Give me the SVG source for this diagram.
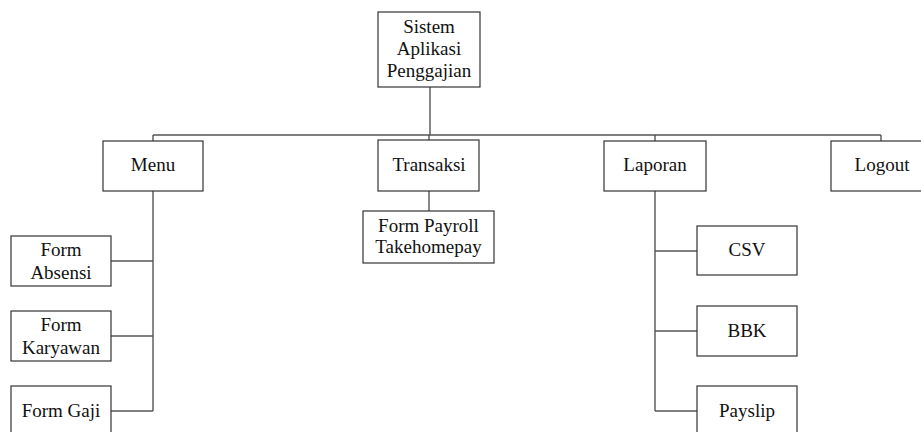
<svg xmlns="http://www.w3.org/2000/svg" width="921" height="432" viewBox="0 0 921 432">
  <style>
    .box { fill: #ffffff; stroke: #333333; stroke-width: 1.2; }
    .link { fill: none; stroke: #555555; stroke-width: 1.4; }
    text { font-family: "Liberation Serif", "Times New Roman", serif; font-size: 19px; fill: #111111; text-anchor: middle; }
  </style>
  <rect width="921" height="432" fill="#ffffff"/>

  <!-- connectors -->
  <g id="connectors">
    <path class="link" d="M430 87 V135 M153 135 H881 M153 135 V141 M429 135 V140 M655 135 V141 M881 135 V141"/>
    <path class="link" d="M153 191 V411 M111 261 H153 M111 336 H153 M111 411 H153"/>
    <path class="link" d="M429 191 V211"/>
    <path class="link" d="M655 191 V411 M655 251 H697 M655 331 H697 M655 411 H697"/>
  </g>

  <g id="root">
    <rect class="box" x="378" y="12" width="102" height="75"/>
    <text x="429" y="33">Sistem</text>
    <text x="429" y="55">Aplikasi</text>
    <text x="429" y="77">Penggajian</text>
  </g>

  <g id="menu">
    <rect class="box" x="103" y="141" width="100" height="50"/>
    <text x="153" y="171">Menu</text>
  </g>
  <g id="transaksi">
    <rect class="box" x="378" y="140" width="101" height="51"/>
    <text x="429" y="171">Transaksi</text>
  </g>
  <g id="laporan">
    <rect class="box" x="604" y="141" width="102" height="50"/>
    <text x="655" y="171">Laporan</text>
  </g>
  <g id="logout">
    <rect class="box" x="831" y="141" width="100" height="50"/>
    <text x="882" y="171">Logout</text>
  </g>

  <g id="form-absensi">
    <rect class="box" x="11" y="236" width="100" height="50"/>
    <text x="61" y="256">Form</text>
    <text x="61" y="279">Absensi</text>
  </g>
  <g id="form-karyawan">
    <rect class="box" x="11" y="311" width="100" height="50"/>
    <text x="61" y="331">Form</text>
    <text x="61" y="354">Karyawan</text>
  </g>
  <g id="form-gaji">
    <rect class="box" x="11" y="386" width="100" height="50"/>
    <text x="61" y="417">Form Gaji</text>
  </g>

  <g id="form-payroll">
    <rect class="box" x="363" y="211" width="131" height="52"/>
    <text x="428.5" y="232">Form Payroll</text>
    <text x="428.5" y="253">Takehomepay</text>
  </g>

  <g id="csv">
    <rect class="box" x="697" y="226" width="100" height="49"/>
    <text x="747" y="256">CSV</text>
  </g>
  <g id="bbk">
    <rect class="box" x="697" y="306" width="100" height="50"/>
    <text x="747" y="337">BBK</text>
  </g>
  <g id="payslip">
    <rect class="box" x="697" y="386" width="100" height="50"/>
    <text x="747" y="417">Payslip</text>
  </g>
</svg>
